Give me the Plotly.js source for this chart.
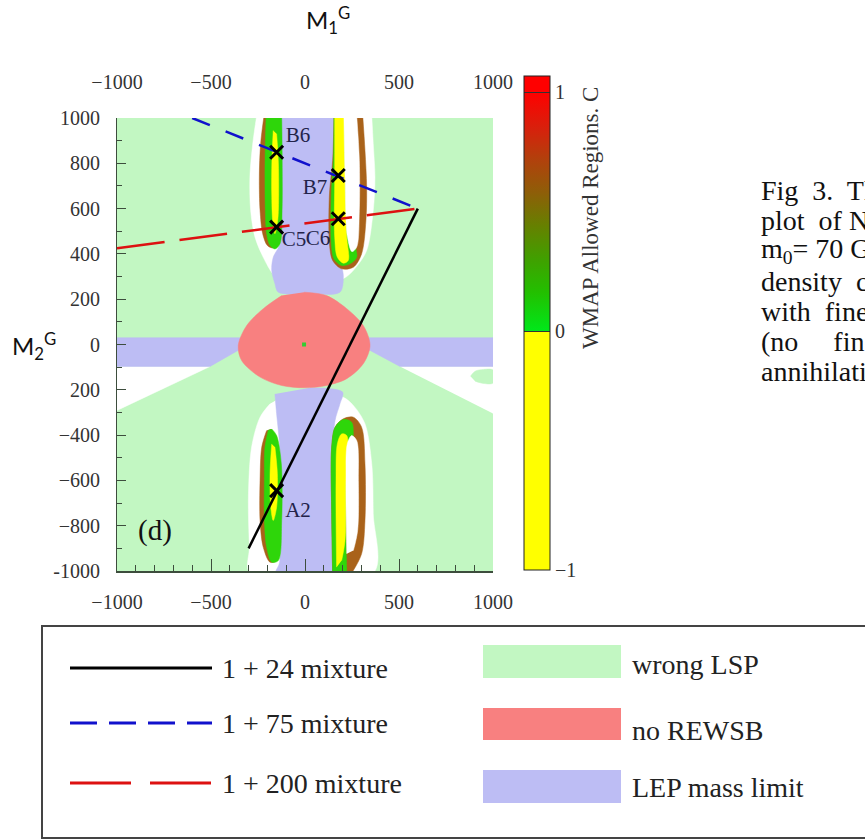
<!DOCTYPE html>
<html>
<head>
<meta charset="utf-8">
<script src="https://cdn.plot.ly/plotly-3.0.1.min.js"></script>
<style>html,body{margin:0;padding:0;background:#fff;overflow:hidden}#chart{width:865px;height:840px}</style>
</head>
<body>
<div id="chart"></div>
<script>
// ---------- axis ticks ----------
const xTickVals = [-1000, -500, 0, 500, 1000];
const xTickText = ['\u22121000', '\u2212500', '0', '500', '1000'];
const yTickVals = [1000, 800, 600, 400, 200, 0, -200, -400, -600, -800, -1000];
const yTickText = ['1000', '800', '600', '400', '200', '0', '200', '\u2212400', '\u2212600', '\u2212800', '-1000'];
const cbTickVals = [-1, 0, 1];
const cbTickText = ['\u22121', '0', '1'];

// ---------- region boundaries (M1, M2) ----------
const wrongLspX = [-1000, 1000, 1000, -1000];
const wrongLspY = [-1000, -1000, 1000, 1000];

const whiteWedgeLeftX = [-1000, -505, -1000];
const whiteWedgeLeftY = [-97, -97, -291];
const whiteWedgeRightX = [505, 1000, 1000];
const whiteWedgeRightY = [-97, -97, -305];

const whiteUpperX = [-257, -278, -293, -289, -266, -222, -170, -110, 0, 120, 222, 275, 328, 363, 372, 363, 355];
const whiteUpperY = [1010, 886, 739, 592, 474, 385, 310, 262, 245, 262, 300, 345, 415, 592, 739, 886, 1010];

const whiteLowerX = [-186, -239, -284, -301, -296, -293, 363, 363, 355, 319, 257, 204, 100, 0, -100];
const whiteLowerY = [-262, -321, -453, -674, -895, -1010, -1010, -747, -527, -350, -269, -233, -215, -212, -220];

const lepBandX = [-1000, 1000, 1000, 505, 346, -356, -505, -1000];
const lepBandY = [30, 30, -97, -97, -26, -26, -97, -97];

const lepUpperX = [-135, -135, -169, -177, -160, -142, 27, 186, 204, 195, 165, 165];
const lepUpperY = [1010, 445, 385, 327, 268, 231, 224, 231, 297, 341, 385, 1010];

const lepLowerX = [-160, -151, -142, -135, -135, -154, 154, 150, 160, 186, 200, 27];
const lepLowerY = [-218, -306, -380, -453, -961, -1010, -1010, -453, -335, -262, -210, -191];

const rewsbX = [-5, 115, 222, 310, 346, 310, 222, 115, -5, -124, -239, -337, -355, -310, -222, -124];
const rewsbY = [231, 216, 158, 84, -4, -85, -151, -181, -191, -181, -144, -71, -4, 84, 158, 216];

// WMAP-allowed ribbons
const ulBrownX = [-218, -236, -243, -239, -225, -200, -169, -142, -142, -151];
const ulBrownY = [1010, 886, 739, 592, 489, 437, 427, 474, 886, 1010];
const ulGreenX = [-207, -211, -213, -211, -204, -186, -160, -133, -122, -122, -124];
const ulGreenY = [1010, 886, 739, 592, 489, 437, 422, 445, 592, 886, 1010];
const ulYellowX = [-169, -176, -177, -172, -160, -145, -140, -142, -151];
const ulYellowY = [945, 812, 665, 547, 489, 547, 665, 812, 930];

const urBrownX = [154, 147, 130, 130, 147, 195, 257, 301, 324, 328, 319, 307];
const urBrownY = [1010, 812, 665, 445, 371, 334, 341, 400, 547, 695, 857, 1010];
const urGreenX = [154, 151, 140, 140, 154, 195, 239, 275, 266, 222];
const urGreenY = [1010, 812, 665, 445, 378, 349, 356, 385, 445, 1010];
const urYellowX = [158, 158, 158, 172, 204, 230, 222, 213, 209];
const urYellowY = [1010, 739, 474, 385, 359, 371, 474, 739, 1010];
const urInnerX = [207, 213, 226, 250, 275, 289, 289, 275];
const urInnerY = [1010, 739, 474, 410, 430, 592, 812, 1010];

const llBrownX = [-204, -230, -239, -239, -222, -186, -151, -142, -160, -182];
const llBrownY = [-380, -453, -600, -777, -895, -961, -954, -600, -409, -373];
const llGreenX = [-195, -213, -216, -216, -204, -177, -142, -124, -126, -151, -177];
const llGreenY = [-377, -453, -600, -777, -895, -961, -954, -777, -527, -402, -373];
const llYellowX = [-177, -186, -182, -169, -151, -147, -160];
const llYellowY = [-439, -571, -718, -777, -718, -571, -453];

const lrBrownX = [147, 142, 142, 160, 204, 257, 301, 319, 319, 301, 248];
const lrBrownY = [-1010, -747, -453, -365, -328, -321, -365, -527, -777, -924, -1010];
const lrGreenX = [147, 142, 142, 160, 204, 248, 257, 222, 222];
const lrGreenY = [-1010, -747, -453, -365, -331, -343, -395, -600, -1010];
const lrYellowX = [168, 165, 172, 195, 222, 218, 213, 195];
const lrYellowY = [-983, -600, -439, -395, -402, -600, -865, -954];
const lrInnerX = [222, 218, 225, 248, 275, 284, 280, 257];
const lrInnerY = [-924, -600, -439, -402, -424, -600, -821, -910];

const smallGreenX = [880, 905, 950, 1000, 1000, 950, 905];
const smallGreenY = [-140, -118, -110, -113, -170, -172, -162];

const centerDotX = [-5];
const centerDotY = [0];

// mixture lines
const mix24X = [600, -300];
const mix24Y = [600, -900];
const mix75X = [-600, 600];
const mix75Y = [1000, 600];
const mix200X = [-1000, 600];
const mix200Y = [425, 600];

// benchmark points
const pointX = [-151, 177, -151, 177, -151];
const pointY = [849, 746, 518, 555, -645];
const pointLabelX = [-37, 53, -58, 69, -37];
const pointLabelY = [918, 689, 459, 463, -737];
const pointLabelText = ['B6', 'B7', 'C5', 'C6', 'A2'];

// legend
const legendLineLabels = ['1 + 24 mixture', '1 + 75 mixture', '1 + 200 mixture'];
const legendFillLabels = ['wrong LSP', 'no REWSB', 'LEP mass limit'];

const captionLines = ['Fig&nbsp; 3.&nbsp; The', 'plot&nbsp; of NLSP', 'm<sub>0</sub>=&nbsp;70 GeV', 'density&nbsp; contours', 'with&nbsp; fine-tuning',
  '(no &nbsp;&nbsp;&nbsp; fine-tuning)', 'annihilation'];

// ---------- styling ----------
const C_LSP = '#c2f7c2', C_REWSB = '#f88080', C_LEP = '#bdbdf4';
const C_GREEN = '#2ed60a', C_YELLOW = '#ffff00', C_BROWN = '#a9621a', C_WHITE = '#ffffff';
const SERIF = 'Liberation Serif, DejaVu Serif, serif';

function region(x, y, color, smooth) {
  return {type: 'scatter', x: x, y: y, mode: 'lines', fill: 'toself', fillcolor: color,
    line: {width: 0.5, color: color, shape: smooth ? 'spline' : 'linear', smoothing: 0.9},
    hoverinfo: 'skip', showlegend: false};
}

const traces = [
  region(wrongLspX, wrongLspY, C_LSP, false),
  region(whiteWedgeLeftX, whiteWedgeLeftY, C_WHITE, false),
  region(whiteWedgeRightX, whiteWedgeRightY, C_WHITE, false),
  region(whiteUpperX, whiteUpperY, C_WHITE, true),
  region(whiteLowerX, whiteLowerY, C_WHITE, true),
  region(lepBandX, lepBandY, C_LEP, false),
  region(lepUpperX, lepUpperY, C_LEP, true),
  region(lepLowerX, lepLowerY, C_LEP, true),
  region(rewsbX, rewsbY, C_REWSB, true),
  region(ulBrownX, ulBrownY, C_BROWN, true),
  region(ulGreenX, ulGreenY, C_GREEN, true),
  region(ulYellowX, ulYellowY, C_YELLOW, true),
  region(urBrownX, urBrownY, C_BROWN, true),
  region(urGreenX, urGreenY, C_GREEN, true),
  region(urYellowX, urYellowY, C_YELLOW, true),
  region(urInnerX, urInnerY, C_WHITE, true),
  region(llBrownX, llBrownY, C_BROWN, true),
  region(llGreenX, llGreenY, C_GREEN, true),
  region(llYellowX, llYellowY, C_YELLOW, true),
  region(lrBrownX, lrBrownY, C_BROWN, true),
  region(lrGreenX, lrGreenY, C_GREEN, true),
  region(lrYellowX, lrYellowY, C_YELLOW, true),
  region(lrInnerX, lrInnerY, C_WHITE, true),
  region(smallGreenX, smallGreenY, C_LSP, true),
  {type: 'scatter', x: centerDotX, y: centerDotY, mode: 'markers',
   marker: {symbol: 'square', size: 4, color: '#33cc33'}, hoverinfo: 'skip', showlegend: false},
  {type: 'scatter', x: mix24X, y: mix24Y, mode: 'lines', line: {color: '#000000', width: 2.5},
   name: legendLineLabels[0], hoverinfo: 'skip', showlegend: false},
  {type: 'scatter', x: mix75X, y: mix75Y, mode: 'lines', line: {color: '#1111cc', width: 2.5, dash: '19px,17px'},
   name: legendLineLabels[1], hoverinfo: 'skip', showlegend: false},
  {type: 'scatter', x: mix200X, y: mix200Y, mode: 'lines', line: {color: '#dd1111', width: 2.5, dash: '48px,15px'},
   name: legendLineLabels[2], hoverinfo: 'skip', showlegend: false},
  {type: 'scatter', x: pointX, y: pointY, mode: 'markers',
   marker: {symbol: 'x-thin', size: 13, line: {width: 3, color: '#000000'}, color: '#000000'},
   hoverinfo: 'skip', showlegend: false},
  {type: 'scatter', x: pointLabelX, y: pointLabelY, mode: 'text', text: pointLabelText,
   textfont: {family: SERIF, size: 21, color: '#23234a'}, hoverinfo: 'skip', showlegend: false},
  // label-only axes
  {type: 'scatter', x: [], y: [], xaxis: 'x2', yaxis: 'y', hoverinfo: 'skip', showlegend: false},
  {type: 'scatter', x: [], y: [], xaxis: 'x3', yaxis: 'y', hoverinfo: 'skip', showlegend: false},
  {type: 'scatter', x: [], y: [], xaxis: 'x', yaxis: 'y2', hoverinfo: 'skip', showlegend: false},
  // colour bar carrier (outside the visible range)
  {type: 'heatmap', x: [3000, 3100], y: [3000, 3100], z: [[-1, 1], [-1, 1]], zmin: -1, zmax: 1.067,
   hoverinfo: 'skip',
   colorscale: [[0, '#ffff00'], [0.4838, '#ffff00'], [0.4838, '#00e81a'], [0.561, '#22c000'],
     [0.629, '#40a000'], [0.697, '#668000'], [0.764, '#8e5e08'], [0.832, '#b2400c'],
     [0.895, '#d8200c'], [0.968, '#ff0000'], [1, '#ff0000']],
   showscale: true,
   colorbar: {x: (524 - 117) / 376, xanchor: 'left', xpad: 0, thickness: 26, thicknessmode: 'pixels',
     len: 494, lenmode: 'pixels', y: (571 - 76) / 453, yanchor: 'top', ypad: 0,
     outlinewidth: 1, outlinecolor: '#222', tickvals: cbTickVals, ticktext: cbTickText,
     ticks: 'inside', ticklen: 26, tickcolor: '#333', tickwidth: 1,
     tickfont: {family: SERIF, size: 20, color: '#333'}}}
];

// ---------- layout helpers (pixel -> paper) ----------
const PX = px => (px - 117) / 376;
const PY = py => (571 - py) / 453;

const shapes = [
  {type: 'rect', xref: 'paper', yref: 'paper', x0: PX(42), x1: PX(905), y0: PY(838), y1: PY(626),
   line: {color: '#444', width: 2}, fillcolor: 'rgba(0,0,0,0)'},
  {type: 'line', xref: 'paper', yref: 'paper', x0: PX(70), x1: PX(212), y0: PY(668), y1: PY(668),
   line: {color: '#000', width: 3}},
  {type: 'line', xref: 'paper', yref: 'paper', x0: PX(70), x1: PX(212), y0: PY(723), y1: PY(723),
   line: {color: '#1111cc', width: 3, dash: '27px,12px'}},
  {type: 'line', xref: 'paper', yref: 'paper', x0: PX(70), x1: PX(212), y0: PY(783), y1: PY(783),
   line: {color: '#dd1111', width: 3, dash: '61px,19px'}},
  {type: 'rect', xref: 'paper', yref: 'paper', x0: PX(483), x1: PX(621), y0: PY(678), y1: PY(645),
   line: {width: 0}, fillcolor: C_LSP},
  {type: 'rect', xref: 'paper', yref: 'paper', x0: PX(483), x1: PX(621), y0: PY(740), y1: PY(708),
   line: {width: 0}, fillcolor: C_REWSB},
  {type: 'rect', xref: 'paper', yref: 'paper', x0: PX(483), x1: PX(621), y0: PY(803), y1: PY(770),
   line: {width: 0}, fillcolor: C_LEP}
];

const annotations = [
  {xref: 'paper', yref: 'paper', x: PX(328), y: PY(20), text: 'M<sub>1</sub><sup>G</sup>', showarrow: false,
   font: {family: 'Lato, Open Sans, sans-serif', size: 24, color: '#111'}, xanchor: 'center', yanchor: 'middle'},
  {xref: 'paper', yref: 'paper', x: PX(34), y: PY(346), text: 'M<sub>2</sub><sup>G</sup>', showarrow: false,
   font: {family: 'Lato, Open Sans, sans-serif', size: 24, color: '#111'}, xanchor: 'center', yanchor: 'middle'},
  {xref: 'paper', yref: 'paper', x: PX(590), y: PY(218), text: 'WMAP Allowed Regions. C', textangle: -90,
   showarrow: false, font: {family: SERIF, size: 23, color: '#333'}, xanchor: 'center', yanchor: 'middle'},
  {xref: 'x', yref: 'y', x: -798, y: -821, text: '(d)', showarrow: false,
   font: {family: SERIF, size: 29, color: '#111'}, xanchor: 'center', yanchor: 'middle'}
];
const legendRowsY = [668, 723, 783];
const legendFillRowsY = [664, 730, 787];
legendLineLabels.forEach((t, i) => annotations.push({xref: 'paper', yref: 'paper', x: PX(220), y: PY(legendRowsY[i]),
  text: t, showarrow: false, xanchor: 'left', yanchor: 'middle', font: {family: SERIF, size: 28, color: '#222'}}));
legendFillLabels.forEach((t, i) => annotations.push({xref: 'paper', yref: 'paper', x: PX(630), y: PY(legendFillRowsY[i]),
  text: t, showarrow: false, xanchor: 'left', yanchor: 'middle', font: {family: SERIF, size: 28, color: '#222'}}));
const captionRowsY = [190, 220, 251, 281, 311, 341, 371];
captionLines.forEach((t, i) => annotations.push({xref: 'paper', yref: 'paper', x: PX(759), y: PY(captionRowsY[i]),
  text: t, showarrow: false, xanchor: 'left', yanchor: 'middle', font: {family: SERIF, size: 28, color: '#111'}}));

const axisCommon = {range: [-1000, 1000], showgrid: false, zeroline: false, fixedrange: true};
const labelFont = {family: SERIF, size: 20, color: '#333'};

const layout = {
  width: 865, height: 840, autosize: false,
  margin: {l: 117, r: 372, t: 118, b: 269, pad: 0},
  paper_bgcolor: '#ffffff', plot_bgcolor: '#ffffff',
  showlegend: false,
  xaxis: Object.assign({}, axisCommon, {showline: true, linecolor: '#3d4d3d', linewidth: 1.5,
    ticks: 'inside', tickvals: xTickVals, ticklen: 12, tickcolor: '#3d4d3d', tickwidth: 1,
    minor: {ticks: 'inside', dtick: 100, tick0: 0, ticklen: 6, tickcolor: '#3d4d3d'},
    showticklabels: false, layer: 'above traces'}),
  yaxis: Object.assign({}, axisCommon, {showline: true, linecolor: '#3d4d3d', linewidth: 1.5,
    ticks: 'inside', tickvals: yTickVals, ticklen: 9, tickcolor: '#3d4d3d', tickwidth: 1,
    minor: {ticks: 'inside', dtick: 100, tick0: 0, ticklen: 5, tickcolor: '#3d4d3d'},
    showticklabels: false, layer: 'above traces'}),
  xaxis2: Object.assign({}, axisCommon, {overlaying: 'x', side: 'top', anchor: 'y', showline: false,
    ticks: 'outside', ticklen: 20, tickcolor: 'rgba(0,0,0,0)', tickvals: xTickVals, ticktext: xTickText,
    tickfont: labelFont}),
  xaxis3: Object.assign({}, axisCommon, {overlaying: 'x', side: 'bottom', anchor: 'y', showline: false,
    ticks: 'outside', ticklen: 13, tickcolor: 'rgba(0,0,0,0)', tickvals: xTickVals, ticktext: xTickText,
    tickfont: labelFont}),
  yaxis2: Object.assign({}, axisCommon, {overlaying: 'y', side: 'left', anchor: 'x', showline: false,
    ticks: 'outside', ticklen: 12, tickcolor: 'rgba(0,0,0,0)', tickvals: yTickVals, ticktext: yTickText,
    tickfont: labelFont}),
  shapes: shapes,
  annotations: annotations
};

Plotly.newPlot('chart', traces, layout, {displayModeBar: false, staticPlot: true});
</script>
</body>
</html>
